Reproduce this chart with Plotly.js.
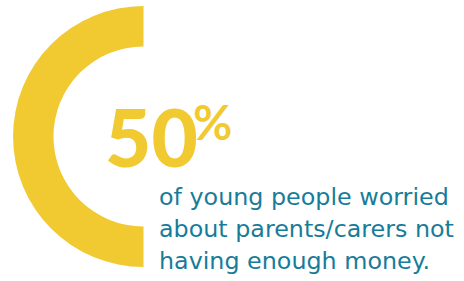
<!DOCTYPE html>
<html><head><meta charset="utf-8">
<script src="https://cdn.plot.ly/plotly-3.0.1.min.js"></script>
<style>html,body{margin:0;padding:0;background:#fff}#chart{width:464px;height:281px}</style>
</head><body><div id="chart"></div>
<script>
var labels = ["Worried", "Not worried"];
var values = [50, 50];
var headline = "50";
var percentSign = "%";
var caption = ["of young people worried", "about parents/carers not", "having enough money."];

var W = 464, H = 281;
function px(x){return x/W;}
function py(y){return 1 - y/H;}

var trace = {
  type: "pie",
  labels: labels,
  values: values,
  hole: 0.69,
  sort: false,
  direction: "clockwise",
  rotation: 180,
  marker: {colors: ["#F1C931", "rgba(0,0,0,0)"], line: {width: 0}},
  textinfo: "none",
  hoverinfo: "none",
  showlegend: false,
  domain: {x: [px(13), px(274)], y: [py(267), py(6)]}
};

var captionY = [197, 229, 261];
var annotations = [
  {xref: "paper", yref: "paper", x: px(104), y: py(136), xanchor: "left", yanchor: "middle",
   text: headline, showarrow: false, borderpad: 0,
   font: {family: "Lato, sans-serif", size: 80, weight: 900, color: "#F1C931"}},
  {xref: "paper", yref: "paper", x: px(192), y: py(122), xanchor: "left", yanchor: "middle",
   text: percentSign, showarrow: false, borderpad: 0,
   font: {family: "Lato, sans-serif", size: 48, weight: 700, color: "#F1C931"}}
];
caption.forEach(function(line, i){
  annotations.push({xref: "paper", yref: "paper", x: px(157), y: py(captionY[i]), xanchor: "left", yanchor: "middle",
    align: "left", text: line, showarrow: false,
    font: {family: "DejaVu Sans, sans-serif", size: 23.8, color: "#177C99"}});
});

var layout = {
  width: W, height: H,
  margin: {l: 0, r: 0, t: 0, b: 0},
  paper_bgcolor: "#fff",
  plot_bgcolor: "#fff",
  showlegend: false,
  annotations: annotations
};

Plotly.newPlot("chart", [trace], layout, {displayModeBar: false, staticPlot: true});
</script></body></html>
